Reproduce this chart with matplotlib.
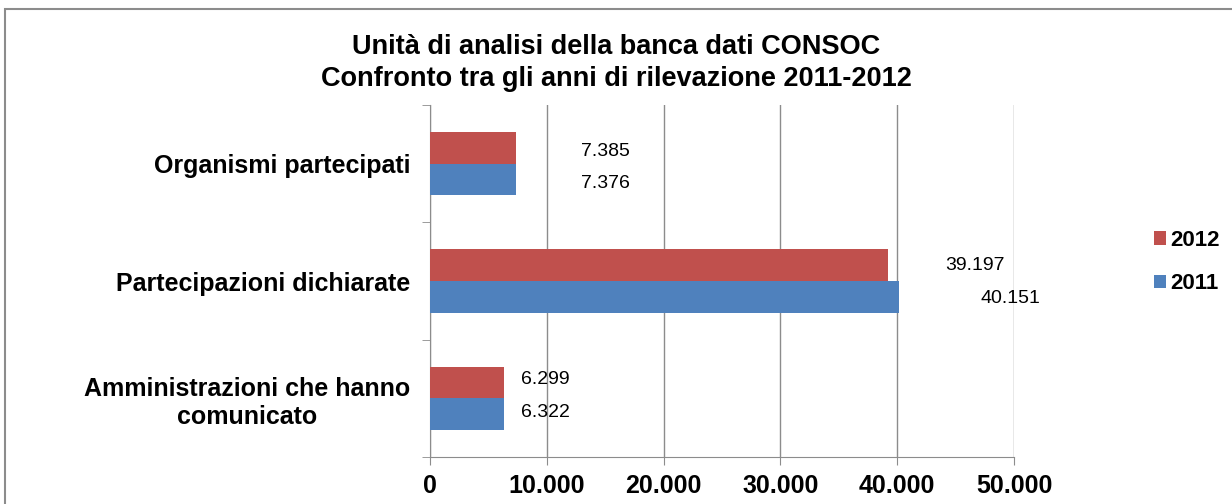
import numpy as np
import matplotlib.pyplot as plt
from matplotlib.patches import Rectangle

plt.rcParams['font.family'] = ['Liberation Sans', 'DejaVu Sans']

categories = ["Amministrazioni che hanno\ncomunicato", "Partecipazioni dichiarate", "Organismi partecipati"]
v2011 = [6322, 40151, 7376]
v2012 = [6299, 39197, 7385]
lab2011 = ["6.322", "40.151", "7.376"]
lab2012 = ["6.299", "39.197", "7.385"]
xticks = [0, 10000, 20000, 30000, 40000, 50000]
xticklabels = ["0", "10.000", "20.000", "30.000", "40.000", "50.000"]

# label offsets in points (labels were moved by hand in the original)
off2011 = [(30, 1), (80, -1), (64, -3)]
off2012 = [(30, 2), (63, 0), (64, -3)]

red = "#C0504D"
blue = "#4F81BD"

fig = plt.figure(figsize=(12.32, 5.04), dpi=100)
fig.patches.append(Rectangle((5 / 1232, -0.1), 1.2, 1 - 9 / 504 + 0.1, transform=fig.transFigure,
                             fill=False, edgecolor="#8c8c8c", linewidth=1.5))
ax = fig.add_axes([430 / 1232, 47 / 504, 584 / 1232, 352 / 504])

y = np.arange(len(categories))
h = 0.27
ax.barh(y - h / 2, v2011, height=h, color=blue, label="2011", zorder=3)
ax.barh(y + h / 2, v2012, height=h, color=red, label="2012", zorder=3)

for i in range(len(categories)):
    ax.annotate(lab2012[i], (v2012[i], y[i] + h / 2), xytext=off2012[i], textcoords="offset points",
                ha="center", va="center", fontsize=14)
    ax.annotate(lab2011[i], (v2011[i], y[i] - h / 2), xytext=off2011[i], textcoords="offset points",
                ha="center", va="center", fontsize=14)

ax.set_xlim(0, 50000)
ax.set_ylim(-0.5, 2.5)
ax.set_xticks(xticks)
ax.set_xticklabels(xticklabels, fontsize=18, fontweight="bold")
ax.set_yticks(y)
ax.set_yticklabels(categories, fontsize=18, fontweight="bold", multialignment="center")
ax.set_yticks([-0.5, 0.5, 1.5, 2.5], minor=True)
ax.tick_params(axis="y", which="major", length=0, pad=14)
ax.tick_params(axis="y", which="minor", length=6, color="#8c8c8c")
ax.tick_params(axis="x", length=6, color="#8c8c8c", pad=6)
ax.grid(axis="x", color="#8c8c8c", linewidth=1, zorder=0)
for s in ["top", "right"]:
    ax.spines[s].set_visible(False)
for s in ["left", "bottom"]:
    ax.spines[s].set_color("#8c8c8c")

handles, labels = ax.get_legend_handles_labels()
leg = fig.legend(handles[::-1], labels[::-1], loc="center left", bbox_to_anchor=(1134 / 1232, 1 - 262 / 504),
                 frameon=False, prop={"weight": "bold", "size": 16}, handlelength=0.55, handleheight=0.55,
                 handletextpad=0.2, labelspacing=1.0)

fig.text(0.5, 1 - 47 / 504, "Unità di analisi della banca dati CONSOC", ha="center", va="center",
         fontsize=19.5, fontweight="bold")
fig.text(0.5, 1 - 79 / 504, "Confronto tra gli anni di rilevazione 2011-2012", ha="center", va="center",
         fontsize=19.5, fontweight="bold")

fig.savefig("out.png", dpi=100)
